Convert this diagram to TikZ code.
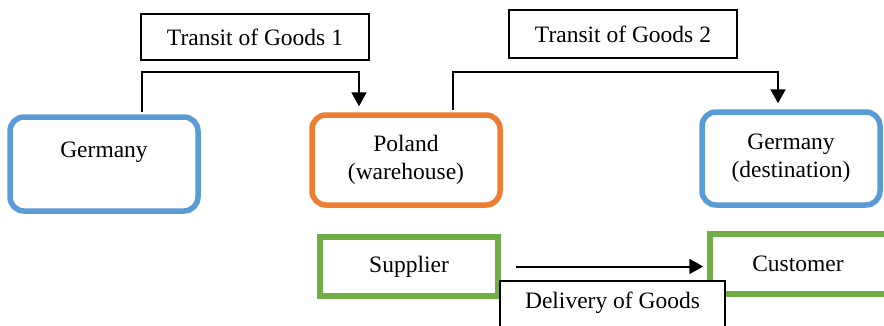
\documentclass[tikz,border=0pt]{standalone}
\usepackage{fontspec}
\setmainfont{Liberation Serif}
\usetikzlibrary{arrows.meta}

\definecolor{placeblue}{RGB}{91,155,213}
\definecolor{placeorange}{RGB}{237,125,49}
\definecolor{partygreen}{RGB}{112,173,71}

\begin{document}
\begin{tikzpicture}[x=1pt,y=1pt,
    font=\fontsize{23.5}{28}\selectfont,
    place/.style={draw, line width=5.5pt, rounded corners=14pt, align=center, inner sep=0pt},
    party/.style={draw=partygreen, line width=5.5pt, align=center, inner sep=0pt},
    tag/.style={draw, line width=1.5pt, fill=white, align=center, inner sep=0pt},
    flow/.style={line width=2pt, -{Triangle[length=14pt,width=15pt]}}]

\clip (0,0) rectangle (884,325);

\node[place, draw=placeblue, minimum width=188pt, minimum height=94pt] (germany) at (104,161) {Germany\\ \mbox{}};
\node[place, draw=placeorange, minimum width=188pt, minimum height=90pt] (poland) at (406,165) {Poland\\ (warehouse)};
\node[place, draw=placeblue, minimum width=178pt, minimum height=93pt] (dest) at (791,166.5) {Germany\\ (destination)};

\node[tag, minimum width=228pt, minimum height=46pt] (transit1) at (255,288) {Transit of Goods 1};
\node[tag, minimum width=228pt, minimum height=48pt] (transit2) at (623,291) {Transit of Goods 2};

\node[party, minimum width=178pt, minimum height=59pt] (supplier) at (409,58.5) {Supplier};
\node[party, minimum width=184pt, minimum height=60pt] (customer) at (802,61) {\hspace*{-4pt}Customer\hspace*{4pt}};

\node[tag, minimum width=225pt, minimum height=66pt] (delivery) at (612.5,11) {Delivery of Goods\\ \mbox{}};

\coordinate (a1) at (142,253);
\coordinate (b1) at (359,253);
\coordinate (a2) at (453,253);
\coordinate (b2) at (778,253);

\draw[flow, shorten <=2.5pt, shorten >=6pt] (germany.north -| a1) -- (a1) -- (b1) -- (poland.north -| b1);
\draw[flow, shorten <=2.5pt, shorten >=6pt] (poland.north -| a2) -- (a2) -- (b2) -- (dest.north -| b2);
\draw[flow, shorten <=15pt, shorten >=4pt] (supplier.east) -- (customer.west |- supplier.east);

\end{tikzpicture}
\end{document}
